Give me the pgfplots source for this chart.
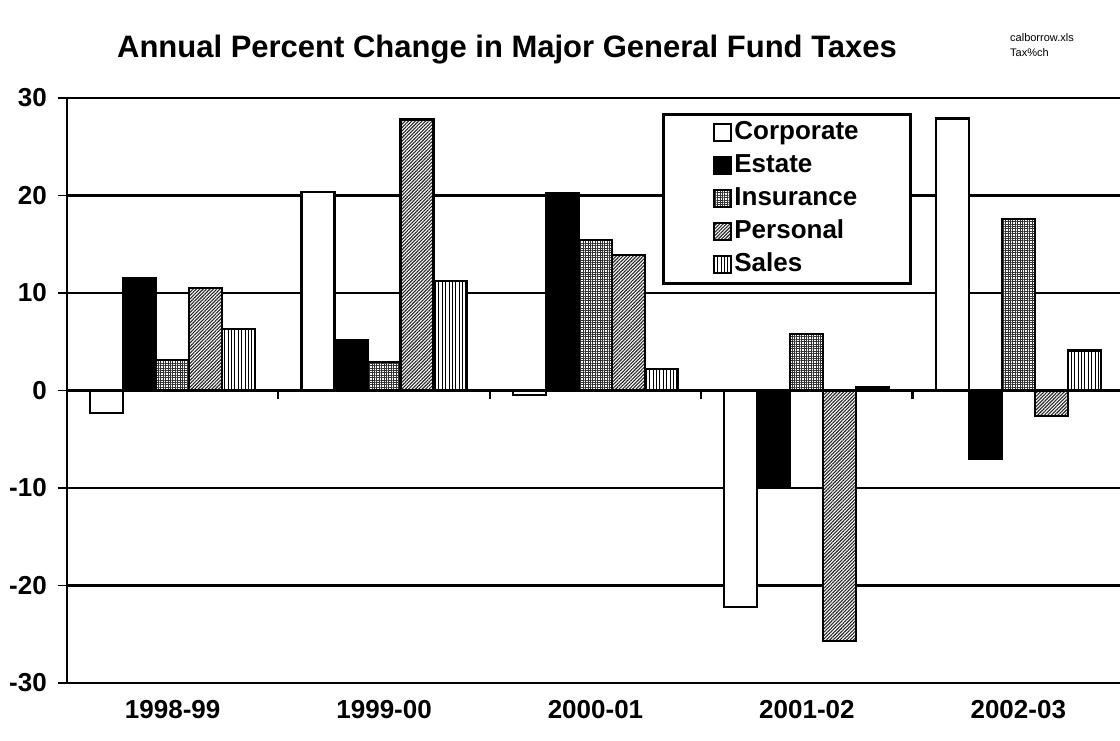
\documentclass[border=0pt]{standalone}
\usepackage{pgfplots}
\pgfplotsset{compat=1.18}
\usepackage{fontspec}
\setmainfont{Liberation Sans}
\usetikzlibrary{patterns.meta}

\pgfplotstableread{
x Corporate Estate Insurance Personal Sales
0 -2.3 11.5 3.1 10.5 6.3
1 20.4 5.2 2.9 27.8 11.2
2 -0.5 20.2 15.4 13.9 2.2
3 -22.2 -10.0 5.8 -25.7 0.3
4 27.9 -7.0 17.6 -2.6 4.1
}\taxdata

\begin{document}
\begin{tikzpicture}
\begin{axis}[
  at={(67pt,57pt)}, anchor=south west,
  scale only axis, width=1057pt, height=585pt,
  xmin=-0.5, xmax=4.5, ymin=-30, ymax=30,
  ybar=0pt, bar width=33pt,
  axis x line*=bottom, axis y line*=left,
  axis line style={line width=2.6pt},
  xtick={0,1,2,3,4},
  xticklabels={1998-99,1999-00,2000-01,2001-02,2002-03},
  xtick style={draw=none},
  xticklabel style={anchor=north, inner sep=0pt, yshift=-8pt},
  ytick={-30,-20,-10,0,10,20,30},
  ymajorgrids, major grid style={black, line width=2.5pt},
  ytick style={line width=1.6pt, black},
  tick align=outside, major tick length=9pt,
  yticklabel style={anchor=east, inner sep=0pt, xshift=-11pt},
  tick label style={font=\fontsize{26}{30}\selectfont\bfseries},
  /pgf/number format/assume math mode=true,
  legend style={at={(0.563,0.974)}, anchor=north west,
    draw=black, line width=2.6pt, inner xsep=50pt, inner ysep=6pt,
    font=\fontsize{26}{30}\selectfont\bfseries, row sep=8pt,
    nodes={text height=19pt, text depth=6pt, inner ysep=0pt},
    legend cell align=left},
  legend image code/.code={\draw[#1, line width=2pt] (0pt,-8pt) rectangle (17pt,9pt);
    \coordinate (legendpad) at (22pt,0pt);},
  every axis plot/.append style={draw=black, line width=2.2pt},
  clip=false,
]
\addplot[fill=white] table[x=x,y=Corporate] {\taxdata};
\addplot[fill=black] table[x=x,y=Estate] {\taxdata};
\addplot[fill=white, postaction={pattern={Hatch[distance=2.4pt, line width=1pt]}, pattern color=black!80}] table[x=x,y=Insurance] {\taxdata};
\addplot[fill=white, postaction={pattern={Lines[angle=45, distance=2.4pt, line width=1.1pt]}, pattern color=black!85}] table[x=x,y=Personal] {\taxdata};
\addplot[fill=white, postaction={pattern={Lines[angle=90, distance=3.4pt, line width=0.6pt]}, pattern color=black}] table[x=x,y=Sales] {\taxdata};
\legend{Corporate,Estate,Insurance,Personal,Sales}
\pgfplotsinvokeforeach{0.5,1.5,2.5,3.5}{\draw[line width=2.2pt] (axis cs:#1,0) -- ([yshift=-8pt]axis cs:#1,0);}
\end{axis}
\node[font=\fontsize{31}{36}\selectfont\bfseries, anchor=center] at (507pt,690pt) {Annual Percent Change in Major General Fund Taxes};
\node[font=\fontsize{11}{15}\selectfont, anchor=north west, align=left, inner sep=0pt] at (1010pt,707pt) {calborrow.xls\\Tax\%ch};
\pgfresetboundingbox
\path[use as bounding box] (0pt,0pt) rectangle (1120pt,740pt);
\end{tikzpicture}
\end{document}
